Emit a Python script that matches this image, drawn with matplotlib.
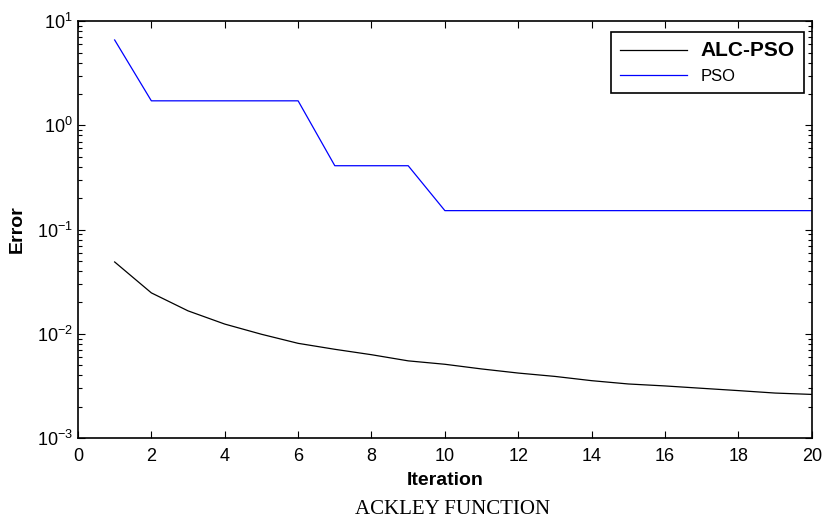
import matplotlib
matplotlib.use("Agg")
import matplotlib.pyplot as plt
from matplotlib.ticker import LogLocator, FixedLocator

iterations = list(range(1, 21))
alc_pso = [0.0489, 0.0247, 0.0166, 0.0124, 0.0099, 0.0081, 0.0071, 0.0063,
           0.0055, 0.0051, 0.0046, 0.0042, 0.0039, 0.00355, 0.0033, 0.00316,
           0.0030, 0.00285, 0.0027, 0.00262]
pso = [6.6, 1.72, 1.72, 1.72, 1.72, 1.72, 0.41, 0.41, 0.41, 0.152,
       0.152, 0.152, 0.152, 0.152, 0.152, 0.152, 0.152, 0.152, 0.152, 0.152]
x_ticks = list(range(0, 21, 2))

plt.rcParams['font.family'] = ['Liberation Sans', 'DejaVu Sans']
plt.rcParams['axes.unicode_minus'] = False
fig = plt.figure(figsize=(8.25, 5.29), dpi=100)
ax = fig.add_axes([0.0945, 0.172, 0.8895, 0.788])

ax.semilogy(iterations, alc_pso, color='black', lw=0.9, label='ALC-PSO')
ax.semilogy(iterations, pso, color='#0000ff', lw=0.9, label='PSO')

ax.set_xlim(0, 20)
ax.set_ylim(1e-3, 1e1)
ax.xaxis.set_major_locator(FixedLocator(x_ticks))
ax.yaxis.set_major_locator(LogLocator(base=10, numticks=10))
ax.yaxis.set_minor_locator(LogLocator(base=10, subs=range(2, 10), numticks=10))

ax.tick_params(which='both', direction='in', top=True, right=True, labelsize=13)
ax.tick_params(axis='x', pad=7)
ax.tick_params(which='major', length=5, width=0.8)
ax.tick_params(which='minor', length=3, width=0.8)
for s in ax.spines.values():
    s.set_linewidth(1.2)

ax.set_xlabel('Iteration', fontsize=14, fontweight='bold', labelpad=5)
ax.set_ylabel('Error', fontsize=14, fontweight='bold', labelpad=8)

leg = ax.legend(loc='upper right', bbox_to_anchor=(0.989, 0.974), fancybox=False,
                edgecolor='black', framealpha=1, fontsize=12, handlelength=4.0,
                borderpad=0.55, labelspacing=0.55, handletextpad=0.8,
                borderaxespad=0)
leg.get_frame().set_linewidth(1.2)
texts = leg.get_texts()
texts[0].set_fontweight('bold')
texts[0].set_fontsize(15)

fig.text(0.548, 0.037, 'ACKLEY FUNCTION', ha='center', va='center',
         fontsize=15, family=['Liberation Serif', 'DejaVu Serif'])

fig.savefig('out.png', dpi=100)
